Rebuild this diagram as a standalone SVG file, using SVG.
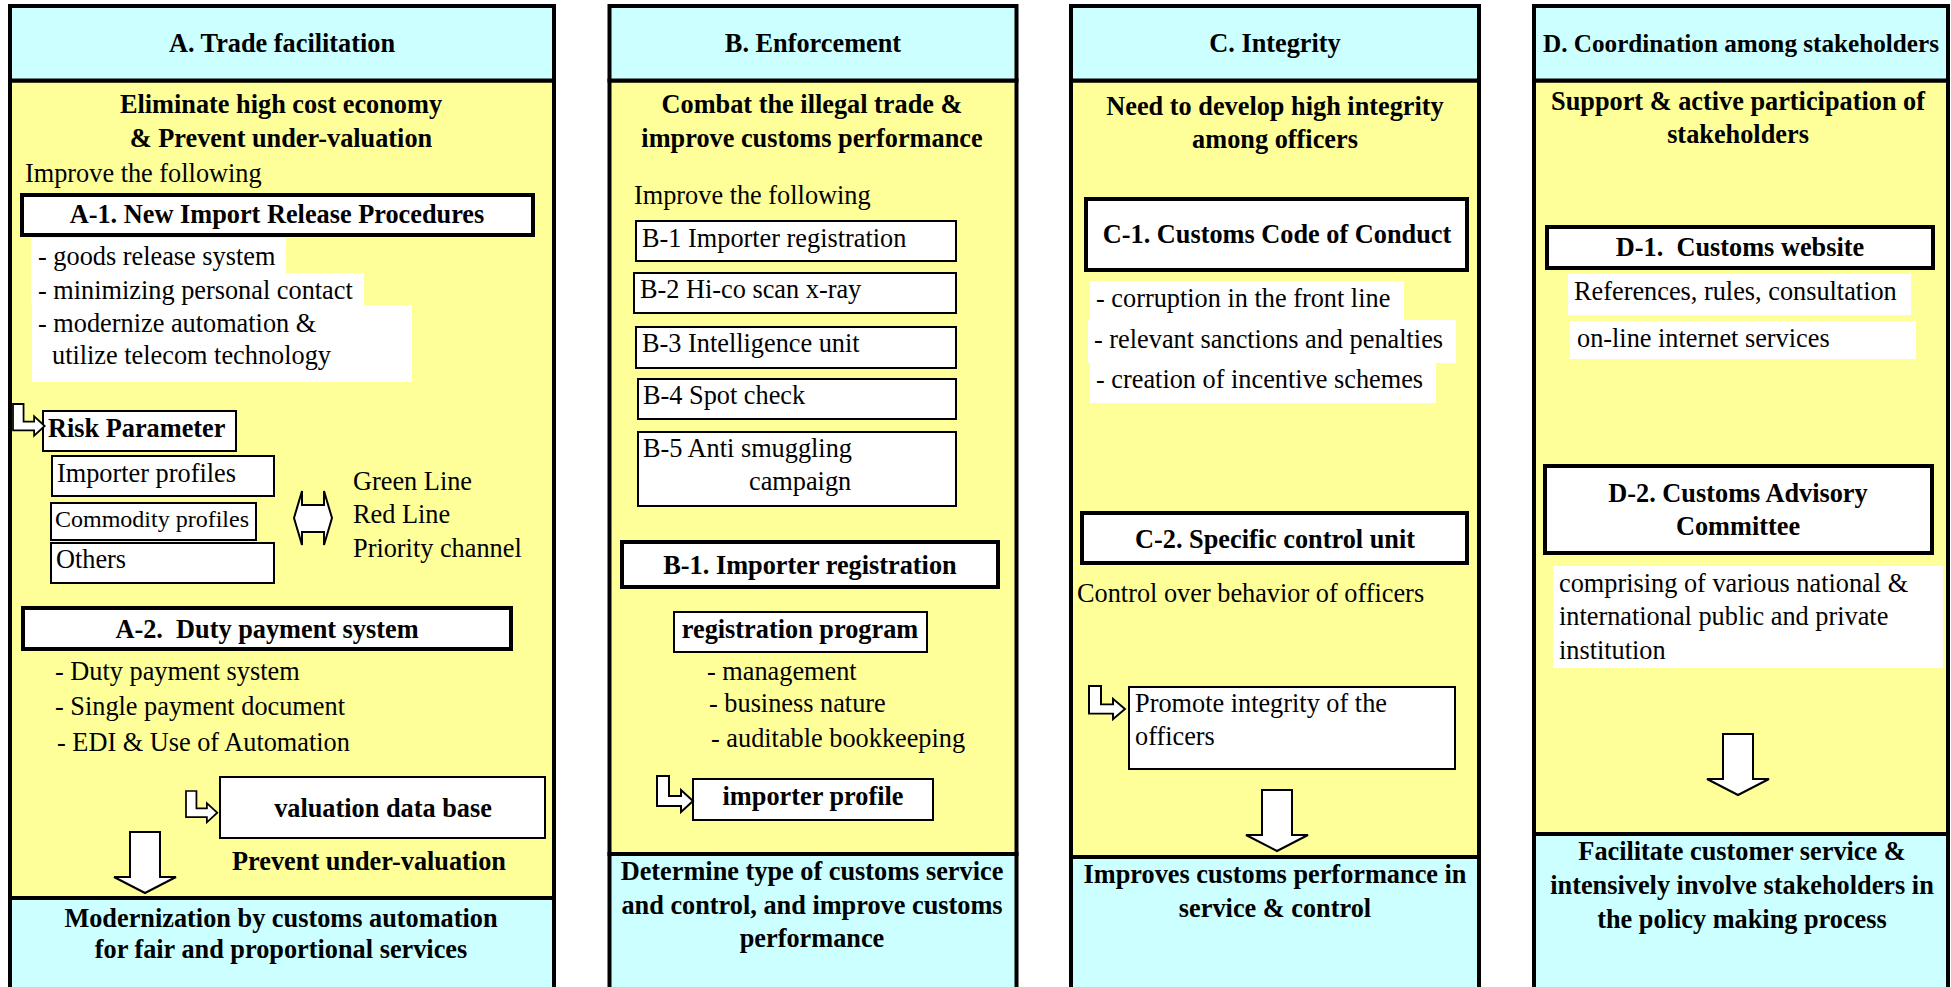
<svg xmlns="http://www.w3.org/2000/svg" xmlns:xlink="http://www.w3.org/1999/xlink" width="1951" height="987" viewBox="0 0 1951 987">
  <style>
    .hdr { fill: #CCFFFF; stroke: #000; stroke-width: 4; }
    .body { fill: #FFFF99; stroke: #000; stroke-width: 4; }
    .thick { fill: #FFFFFF; stroke: #000; stroke-width: 4; }
    .thin { fill: #FFFFFF; stroke: #000; stroke-width: 2; }
    .bg { fill: #FFFFFF; }
    .arrow { fill: #FFFFFF; stroke: #000; stroke-width: 2; stroke-linejoin: miter; }
    text { font-family: "Liberation Serif", "Times New Roman", serif; font-size: 26.3px; fill: #000; }
    .b { font-weight: bold; }
    .c { text-anchor: middle; }
    .sm { font-size: 24px; }
    .hd { font-size: 25.2px; }
  </style>
  <defs>
    <!-- bent (L-shaped) block arrow, 36 x 36 -->
    <path id="bent" d="M0,0 H12 V20 H24 V14 L36,25 L24,36 V30 H0 Z"/>
    <!-- downward block arrow, origin at top centre -->
    <path id="down" d="M-15,0 H15 V45 H31 L0,61 L-31,45 H-15 Z"/>
  </defs>

  <rect width="1951" height="987" fill="#FFFFFF"/>

  <!-- ===== Column A ===== -->
  <g id="colA">
    <rect class="body" x="10" y="80.5" width="544" height="817.5"/>
    <rect class="hdr" x="10" y="6" width="544" height="74.5"/>
    <rect class="hdr" x="10" y="898" width="544" height="95"/>
    <text class="b c" x="282" y="52">A. Trade facilitation</text>
    <text class="b c" x="281" y="113">Eliminate high cost economy</text>
    <text class="b c" x="281" y="147">&amp; Prevent under-valuation</text>
    <text x="25" y="182">Improve the following</text>
    <text class="b c" x="281" y="927">Modernization by customs automation</text>
    <text class="b c" x="281" y="958">for fair and proportional services</text>
  </g>
  <g id="A1">
    <rect class="thick" x="22" y="195" width="511" height="40"/>
    <text class="b c" x="277" y="223">A-1. New Import Release Procedures</text>
    <rect class="bg" x="31" y="238" width="255" height="35"/>
    <rect class="bg" x="31" y="273" width="333" height="32"/>
    <rect class="bg" x="32" y="305" width="380" height="77"/>
    <text x="38" y="265">- goods release system</text>
    <text x="38" y="299">- minimizing personal contact</text>
    <text x="38" y="332">- modernize automation &amp;</text>
    <text x="52" y="364">utilize telecom technology</text>
  </g>
  <g id="riskParameter">
    <rect class="thin" x="43" y="411" width="193" height="40"/>
    <text class="b" x="48" y="437">Risk Parameter</text>
  </g>
  <g id="importerProfiles">
    <rect class="thin" x="52" y="456" width="222" height="40"/>
    <text x="57" y="482">Importer profiles</text>
  </g>
  <g id="commodityProfiles">
    <rect class="thin" x="51" y="503" width="205" height="37"/>
    <text class="sm" x="55" y="527">Commodity profiles</text>
  </g>
  <g id="others">
    <rect class="thin" x="51" y="543" width="223" height="40"/>
    <text x="56" y="568">Others</text>
  </g>
  <g id="lanes">
    <text x="353" y="490">Green Line</text>
    <text x="353" y="523">Red Line</text>
    <text x="353" y="557">Priority channel</text>
  </g>
  <g id="A2">
    <rect class="thick" x="23" y="608" width="488" height="41"/>
    <text class="b c" x="267" y="638" xml:space="preserve">A-2.  Duty payment system</text>
    <text x="55" y="680">- Duty payment system</text>
    <text x="55" y="715">- Single payment document</text>
    <text x="57" y="751">- EDI &amp; Use of Automation</text>
  </g>
  <g id="valuationDB">
    <rect class="thin" x="220" y="777" width="325" height="61"/>
    <text class="b c" x="383" y="817">valuation data base</text>
    <text class="b c" x="369" y="870">Prevent under-valuation</text>
  </g>

  <!-- ===== Column B ===== -->
  <g id="colB">
    <rect class="body" x="609.5" y="80.5" width="407" height="773.5"/>
    <rect class="hdr" x="609.5" y="6" width="407" height="74.5"/>
    <rect class="hdr" x="609.5" y="854" width="407" height="139"/>
    <text class="b c" x="813" y="52">B. Enforcement</text>
    <text class="b c" x="812" y="113">Combat the illegal trade &amp;</text>
    <text class="b c" x="812" y="147">improve customs performance</text>
    <text x="634" y="204">Improve the following</text>
    <text class="b c" x="812" y="880">Determine type of customs service</text>
    <text class="b c" x="812" y="914">and control, and improve customs</text>
    <text class="b c" x="812" y="947">performance</text>
  </g>
  <g id="B1item">
    <rect class="thin" x="636" y="221" width="320" height="40"/>
    <text x="642" y="247">B-1 Importer registration</text>
  </g>
  <g id="B2item">
    <rect class="thin" x="634" y="273" width="322" height="40"/>
    <text x="640" y="298">B-2 Hi-co scan x-ray</text>
  </g>
  <g id="B3item">
    <rect class="thin" x="636" y="327" width="320" height="41"/>
    <text x="642" y="352">B-3 Intelligence unit</text>
  </g>
  <g id="B4item">
    <rect class="thin" x="638" y="379" width="318" height="40"/>
    <text x="643" y="404">B-4 Spot check</text>
  </g>
  <g id="B5item">
    <rect class="thin" x="638" y="432" width="318" height="74"/>
    <text x="643" y="457">B-5 Anti smuggling</text>
    <text x="749" y="490">campaign</text>
  </g>
  <g id="B1">
    <rect class="thick" x="622" y="542" width="376" height="45"/>
    <text class="b c" x="810" y="574">B-1. Importer registration</text>
  </g>
  <g id="registrationProgram">
    <rect class="thin" x="674" y="612" width="253" height="40"/>
    <text class="b c" x="800" y="638">registration program</text>
    <text x="707" y="680">- management</text>
    <text x="709" y="712">- business nature</text>
    <text x="711" y="747">- auditable bookkeeping</text>
  </g>
  <g id="importerProfile">
    <rect class="thin" x="693" y="779" width="240" height="41"/>
    <text class="b c" x="813" y="805">importer profile</text>
  </g>

  <!-- ===== Column C ===== -->
  <g id="colC">
    <rect class="body" x="1071" y="80.5" width="408" height="776.5"/>
    <rect class="hdr" x="1071" y="6" width="408" height="74.5"/>
    <rect class="hdr" x="1071" y="857" width="408" height="136"/>
    <text class="b c" x="1275" y="52">C. Integrity</text>
    <text class="b c" x="1275" y="115">Need to develop high integrity</text>
    <text class="b c" x="1275" y="148">among officers</text>
    <text class="b c" x="1275" y="883">Improves customs performance in</text>
    <text class="b c" x="1275" y="917">service &amp; control</text>
  </g>
  <g id="C1">
    <rect class="thick" x="1086" y="199" width="381" height="71"/>
    <text class="b c" x="1277" y="243">C-1. Customs Code of Conduct</text>
    <rect class="bg" x="1090" y="281" width="314" height="39"/>
    <rect class="bg" x="1088" y="320" width="368" height="43"/>
    <rect class="bg" x="1090" y="363" width="346" height="40"/>
    <text x="1096" y="307">- corruption in the front line</text>
    <text x="1094" y="348">- relevant sanctions and penalties</text>
    <text x="1096" y="388">- creation of incentive schemes</text>
  </g>
  <g id="C2">
    <rect class="thick" x="1082" y="513" width="385" height="50"/>
    <text class="b c" x="1275" y="548">C-2. Specific control unit</text>
    <text x="1077" y="602">Control over behavior of officers</text>
  </g>
  <g id="promoteIntegrity">
    <rect class="thin" x="1129" y="687" width="326" height="82"/>
    <text x="1135" y="712">Promote integrity of the</text>
    <text x="1135" y="745">officers</text>
  </g>

  <!-- ===== Column D ===== -->
  <g id="colD">
    <rect class="body" x="1534" y="80.5" width="414" height="753.5"/>
    <rect class="hdr" x="1534" y="6" width="414" height="74.5"/>
    <rect class="hdr" x="1534" y="834" width="414" height="159"/>
    <text class="b c hd" x="1741" y="52">D. Coordination among stakeholders</text>
    <text class="b c" x="1738" y="110">Support &amp; active participation of</text>
    <text class="b c" x="1738" y="143">stakeholders</text>
    <text class="b c" x="1742" y="860">Facilitate customer service &amp;</text>
    <text class="b c" x="1742" y="894">intensively involve stakeholders in</text>
    <text class="b c" x="1742" y="928">the policy making process</text>
  </g>
  <g id="D1">
    <rect class="thick" x="1547" y="227" width="386" height="41"/>
    <text class="b c" x="1740" y="256" xml:space="preserve">D-1.  Customs website</text>
    <rect class="bg" x="1568" y="274" width="343" height="41"/>
    <rect class="bg" x="1570" y="321" width="346" height="38"/>
    <text x="1574" y="300">References, rules, consultation</text>
    <text x="1577" y="347">on-line internet services</text>
  </g>
  <g id="D2">
    <rect class="thick" x="1545" y="466" width="387" height="87"/>
    <text class="b c" x="1738" y="502">D-2. Customs Advisory</text>
    <text class="b c" x="1738" y="535">Committee</text>
    <rect class="bg" x="1553" y="566" width="390" height="102"/>
    <text x="1559" y="592">comprising of various national &amp;</text>
    <text x="1559" y="625">international public and private</text>
    <text x="1559" y="659">institution</text>
  </g>

  <!-- ===== Connectors ===== -->
  <g id="connectors">
    <use xlink:href="#bent" class="arrow" vector-effect="non-scaling-stroke" transform="translate(13,404) scale(0.88)"/>
    <use xlink:href="#bent" class="arrow" transform="translate(186,791) scale(0.87)"/>
    <use xlink:href="#bent" class="arrow" transform="translate(657,776)"/>
    <use xlink:href="#bent" class="arrow" transform="translate(1089,686) scale(1,0.92)"/>
    <path class="arrow" d="M294,518 L302,491 V505 H324 V491 L332,518 L324,545 V532 H302 V545 Z"/>
    <use xlink:href="#down" class="arrow" transform="translate(145,832)"/>
    <use xlink:href="#down" class="arrow" transform="translate(1277,790)"/>
    <use xlink:href="#down" class="arrow" transform="translate(1738,734)"/>
  </g>
</svg>
